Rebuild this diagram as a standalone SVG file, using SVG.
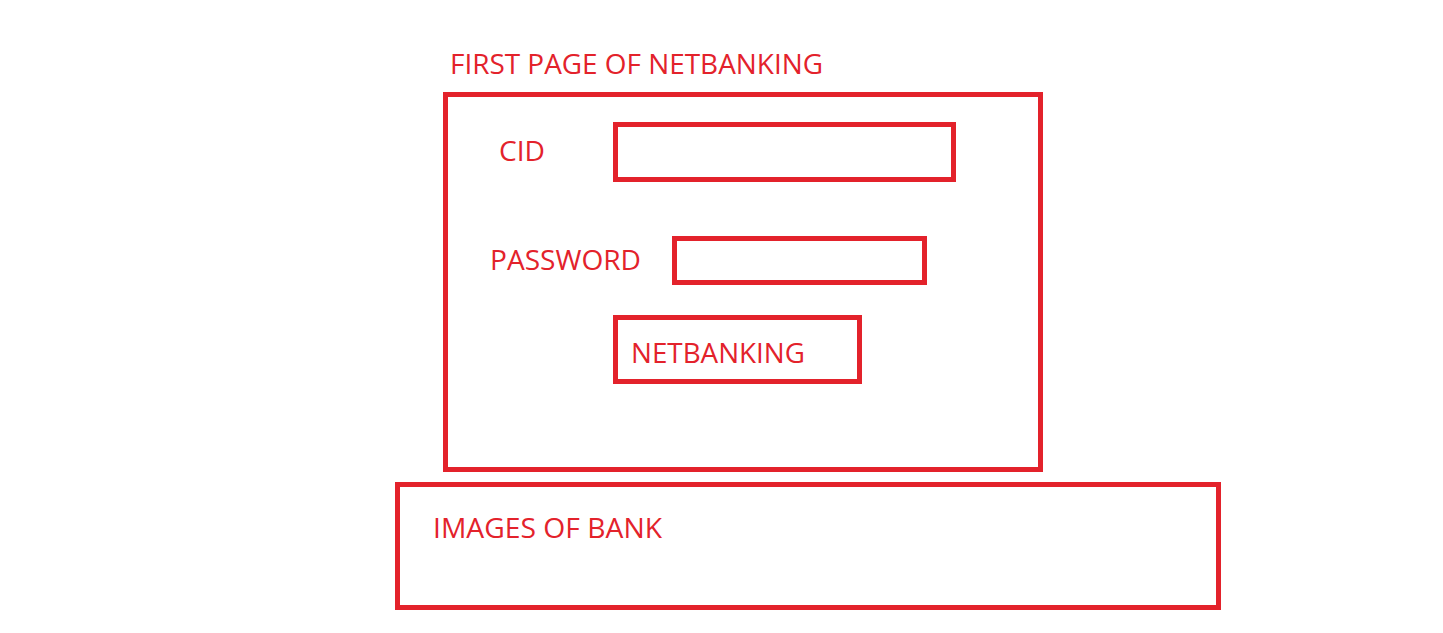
<svg xmlns="http://www.w3.org/2000/svg" width="1443" height="633" viewBox="0 0 1443 633">
<style>
.box{fill:none;stroke:#e3222b;stroke-width:5}
.t{fill:#e3222b;font-family:"Open Sans","Noto Sans","Liberation Sans",sans-serif;font-size:27px}
</style>
<rect x="0" y="0" width="1443" height="633" fill="#ffffff"/>
<g id="title"><text class="t" x="450" y="74" textLength="373" lengthAdjust="spacingAndGlyphs">FIRST PAGE OF NETBANKING</text></g>
<g id="page"><rect class="box" x="445.5" y="94.5" width="595" height="375"/></g>
<g id="cid-label"><text class="t" x="499" y="161" textLength="46" lengthAdjust="spacingAndGlyphs">CID</text></g>
<g id="cid-input"><rect class="box" x="615.5" y="124.5" width="338" height="55"/></g>
<g id="password-label"><text class="t" x="490" y="270" textLength="151" lengthAdjust="spacingAndGlyphs">PASSWORD</text></g>
<g id="password-input"><rect class="box" x="674.5" y="238.5" width="250" height="44"/></g>
<g id="netbanking-button"><rect class="box" x="615.5" y="317.5" width="244" height="64"/><text class="t" x="631" y="363" textLength="174" lengthAdjust="spacingAndGlyphs">NETBANKING</text></g>
<g id="images"><rect class="box" x="397.5" y="484.5" width="821" height="123"/><text class="t" x="433" y="538" textLength="229" lengthAdjust="spacingAndGlyphs">IMAGES OF BANK</text></g>
<g id="connectors"></g>
</svg>
